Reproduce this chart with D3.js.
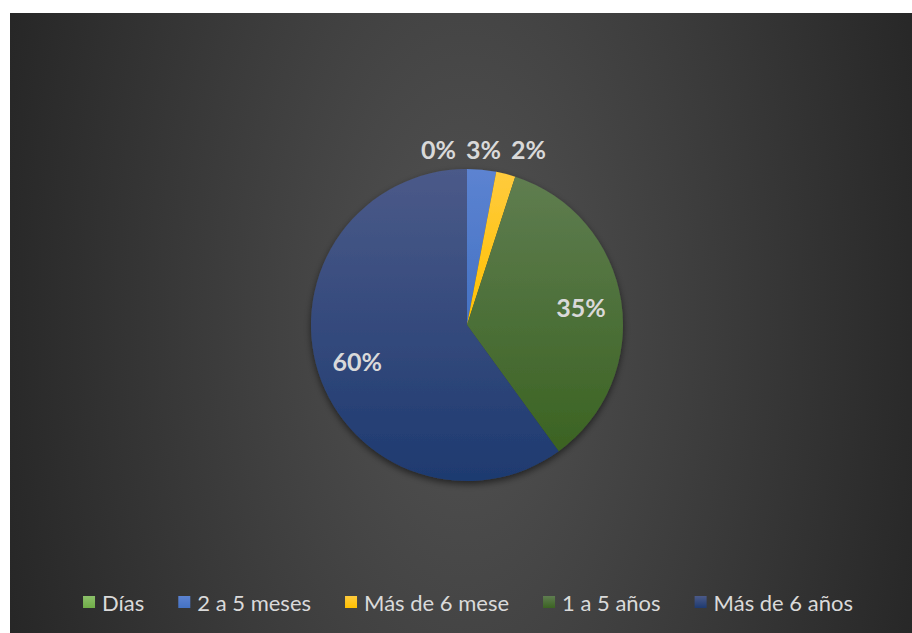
<!DOCTYPE html>
<html>
<head>
<meta charset="utf-8">
<script src="https://cdn.jsdelivr.net/npm/d3@7"></script>
<style>
  html, body { margin: 0; padding: 0; background: #ffffff; }
  svg { display: block; }
</style>
</head>
<body>
<svg id="chart" width="912" height="633"></svg>
<script>
// Tiempo de permanencia: participación de cada categoría (%)
const categories = ["Días", "2 a 5 meses", "Más de 6 mese", "1 a 5 años", "Más de 6 años"];
const values = [0, 3, 2, 35, 60];
const baseColors = ["#70ad47", "#4472c4", "#ffc000", "#3b6322", "#1e3a70"];
const topColors = ["#8cc06a", "#5c83d1", "#ffcb3d", "#5f7d50", "#4b5a89"];

const W = 912, H = 633;
const svg = d3.select("#chart");
const defs = svg.append("defs");

// Chart area background: dark radial gradient
const bg = defs.append("radialGradient")
  .attr("id", "bgGrad")
  .attr("gradientUnits", "userSpaceOnUse")
  .attr("cx", 465).attr("cy", 320).attr("r", 510)
  .attr("gradientTransform", "translate(465,320) scale(1,2) translate(-465,-320)");
bg.append("stop").attr("offset", 0).attr("stop-color", "#535353");
bg.append("stop").attr("offset", 1).attr("stop-color", "#242424");

svg.append("rect")
  .attr("x", 10).attr("y", 13)
  .attr("width", W - 10).attr("height", H - 13)
  .attr("fill", "url(#bgGrad)");

// Per-category vertical gradients
categories.forEach((c, i) => {
  const g = defs.append("linearGradient")
    .attr("id", "grad" + i)
    .attr("x1", 0).attr("y1", 0).attr("x2", 0).attr("y2", 1);
  g.append("stop").attr("offset", 0).attr("stop-color", topColors[i]);
  g.append("stop").attr("offset", 1).attr("stop-color", baseColors[i]);
});

// Soft shadow under the pie
const f = defs.append("filter").attr("id", "pieShadow")
  .attr("x", "-20%").attr("y", "-20%").attr("width", "140%").attr("height", "140%");
f.append("feDropShadow")
  .attr("dx", 0).attr("dy", 3).attr("stdDeviation", 3.5)
  .attr("flood-color", "#000000").attr("flood-opacity", 0.55);

const cx = 467, cy = 325, R = 156;
const data = categories.map((c, i) => ({ cat: c, value: values[i], i }));

const pie = d3.pie().value(d => d.value).sort(null);
const arcs = pie(data);
const arc = d3.arc().innerRadius(0).outerRadius(R);

const gPie = svg.append("g")
  .attr("transform", `translate(${cx},${cy})`)
  .attr("filter", "url(#pieShadow)");

gPie.selectAll("path")
  .data(arcs.filter(a => a.endAngle > a.startAngle))
  .join("path")
  .attr("d", arc)
  .attr("fill", d => `url(#grad${d.data.i})`);

// Data labels
const total = d3.sum(values);
const fmt = v => Math.round(v / total * 100) + "%";
const labelFont = "Lato, 'Open Sans', sans-serif";

const labels = arcs.map(a => {
  const mid = (a.startAngle + a.endAngle) / 2;
  const share = a.data.value / total;
  if (share >= 0.1) {
    const r = R * 0.74;
    return { text: fmt(a.data.value), x: r * Math.sin(mid), y: -r * Math.cos(mid), outside: false };
  }
  // small slices: labels on one row above the pie
  const r = R + 20;
  return { text: fmt(a.data.value), x: r * Math.sin(mid), y: -r, outside: true };
});

// Spread the outside labels from the middle one so they do not overlap
const outs = labels.filter(l => l.outside).sort((a, b) => a.x - b.x);
const minGap = 45;
const pivot = Math.floor(outs.length / 2);
for (let j = pivot - 1; j >= 0; j--) {
  outs[j].x = Math.min(outs[j].x, outs[j + 1].x - minGap);
}
for (let j = pivot + 1; j < outs.length; j++) {
  outs[j].x = Math.max(outs[j].x, outs[j - 1].x + minGap);
}

svg.append("g")
  .attr("transform", `translate(${cx},${cy})`)
  .selectAll("text")
  .data(labels)
  .join("text")
  .attr("x", d => d.x)
  .attr("y", d => d.y)
  .attr("text-anchor", "middle")
  .attr("dominant-baseline", "central")
  .attr("font-family", labelFont)
  .attr("font-weight", "bold")
  .attr("font-size", 25)
  .attr("fill", "#d9d9d9")
  .text(d => d.text);

// Legend
const legendY = 602;
const sw = 12, textGap = 7, itemGap = 34;
const lg = svg.append("g");
const items = lg.selectAll("g")
  .data(categories)
  .join("g");
items.append("rect")
  .attr("width", sw).attr("height", sw)
  .attr("y", legendY - sw / 2)
  .attr("fill", (d, i) => `url(#grad${i})`);
items.append("text")
  .attr("x", sw + textGap)
  .attr("y", legendY)
  .attr("dominant-baseline", "central")
  .attr("font-family", labelFont)
  .attr("font-size", 22)
  .attr("fill", "#dadada")
  .text(d => d);

const widths = [];
items.each(function () {
  const t = d3.select(this).select("text").node().getComputedTextLength();
  widths.push(sw + textGap + t);
});
const totalW = d3.sum(widths) + itemGap * (widths.length - 1);
let start = 468 - totalW / 2;
items.attr("transform", (d, i) => {
  const x = start;
  start += widths[i] + itemGap;
  return `translate(${x},0)`;
});
</script>
</body>
</html>
